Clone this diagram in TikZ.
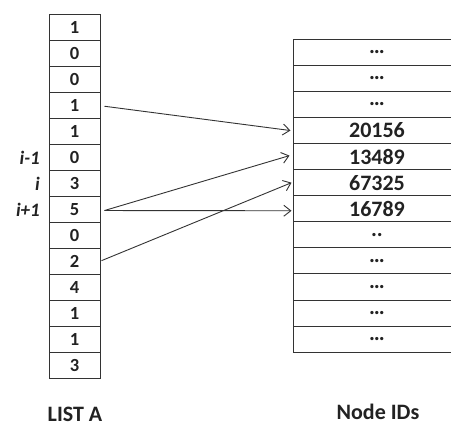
\documentclass[tikz,border=0pt]{standalone}
\usepackage{fontspec}
\setmainfont{Carlito}
\usetikzlibrary{arrows.meta}
\definecolor{ink}{HTML}{222222}
\definecolor{edge}{HTML}{333333}
\tikzset{
  lcell/.style={draw=edge, line width=1pt, minimum width=51pt, minimum height=26.07pt, inner sep=0pt, font=\fontsize{18.5}{18.5}\selectfont\bfseries, text=ink},
  rcell/.style={draw=edge, line width=1pt, minimum width=168pt, minimum height=26.07pt, inner sep=0pt, font=\fontsize{22}{22}\selectfont\bfseries, text=ink},
  idx/.style={anchor=east, inner sep=0pt, font=\fontsize{19}{19}\selectfont\bfseries\itshape, text=ink},
  caption/.style={anchor=base, inner sep=0pt, font=\fontsize{22}{22}\selectfont\bfseries, text=ink},
  link/.style={draw=edge, line width=0.9pt, -{Straight Barb[length=7pt,width=11pt,line width=0.9pt]}}
}
\begin{document}
\begin{tikzpicture}[x=1pt,y=-1pt]
\useasboundingbox (0,0) rectangle (451,426);
\fill[white] (0,0) rectangle (451,426);
\begin{scope}
\clip (0,0) rectangle (451,426);
% left column LIST A
\foreach \v [count=\k] in {1,0,0,1,1,0,3,5,0,2,4,1,1,3} {
  \node[lcell] (a\k) at (74.5, {14+26.07*(\k-0.5)}) {\v};
}
% right column Node IDs
\foreach \v [count=\k] in {\dots,\dots,\dots,20156,13489,67325,16789,..,\dots,\dots,\dots,\dots} {
  \node[rcell] (b\k) at (377, {39.3+26.07*(\k-0.5)}) {\v};
}
\end{scope}
\node[idx] (im1) at (40, {14+26.07*5.5}) {i-1};
\node[idx] (i0) at (40, {14+26.07*6.5}) {i};
\node[idx] (ip1) at (40, {14+26.07*7.5}) {i+1};
\node[caption] (la) at (75, 421) {LIST A};
\node[caption] (ni) at (378, 419) {Node IDs};
% arrows
\draw[link] ([xshift=4pt,yshift=-1pt]a4.east) -- ([xshift=-2pt]b4.west);
\draw[link] ([xshift=4pt,yshift=-1pt]a8.east) -- ([xshift=-3pt,yshift=1pt]b5.west);
\draw[link] ([xshift=4pt,yshift=-1pt]a8.east) -- ([xshift=-1pt,yshift=-2pt]b7.west);
\draw[link] ([xshift=1pt,yshift=1pt]a10.east) -- ([xshift=-1pt]b6.west);
\end{tikzpicture}
\end{document}
